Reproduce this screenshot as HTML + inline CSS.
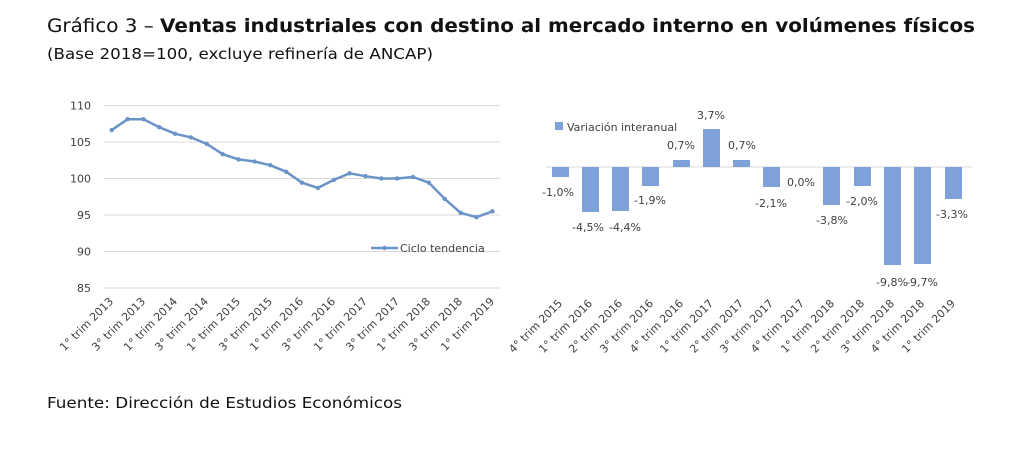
<!DOCTYPE html>
<html><head><meta charset="utf-8"><style>
html,body{margin:0;padding:0;background:#fff;}
svg{display:block;font-family:"DejaVu Sans","Liberation Sans",sans-serif;}
</style></head><body>
<svg width="1024" height="464" viewBox="0 0 1024 464" xmlns="http://www.w3.org/2000/svg">
<text x="47" y="32" font-size="19" fill="#111" textLength="928" lengthAdjust="spacingAndGlyphs">Gráfico 3 – <tspan font-weight="bold">Ventas industriales con destino al mercado interno en volúmenes físicos</tspan></text>
<text x="47" y="59" font-size="15" fill="#111" textLength="386" lengthAdjust="spacingAndGlyphs">(Base 2018=100, excluye refinería de ANCAP)</text>
<text x="47" y="408" font-size="15" fill="#111" textLength="355" lengthAdjust="spacingAndGlyphs">Fuente: Dirección de Estudios Económicos</text>

<g stroke="#d9d9d9" stroke-width="1">
<line x1="104" y1="105.5" x2="500" y2="105.5"/><line x1="104" y1="142" x2="500" y2="142"/>
<line x1="104" y1="178.5" x2="500" y2="178.5"/><line x1="104" y1="215" x2="500" y2="215"/>
<line x1="104" y1="251.5" x2="500" y2="251.5"/><line x1="104" y1="288" x2="500" y2="288"/>
</g>
<g font-size="11" fill="#404040" text-anchor="end">
<text x="91" y="109.5">110</text><text x="91" y="146">105</text><text x="91" y="182.5">100</text>
<text x="91" y="219">95</text><text x="91" y="255.5">90</text><text x="91" y="292">85</text>
</g>
<polyline fill="none" stroke="#6a93c8" stroke-width="2.5" stroke-linejoin="round" points="111.7,130.1 127.6,119.2 143.4,119.2 159.3,127.2 175.2,133.8 191,137.4 206.9,144.0 222.7,154.2 238.6,159.4 254.5,161.5 270.3,165.2 286.2,171.8 302,182.7 317.9,187.9 333.8,179.9 349.6,173.3 365.5,176.2 381.4,178.5 397.2,178.5 413.1,177.0 428.9,182.7 444.8,198.9 460.6,212.8 476.5,217.2 492.4,211.3"/>
<g fill="#6a93c8">
<circle cx="111.7" cy="130.1" r="2.2"/><circle cx="127.6" cy="119.2" r="2.2"/><circle cx="143.4" cy="119.2" r="2.2"/><circle cx="159.3" cy="127.2" r="2.2"/><circle cx="175.2" cy="133.8" r="2.2"/><circle cx="191" cy="137.4" r="2.2"/><circle cx="206.9" cy="144" r="2.2"/><circle cx="222.7" cy="154.2" r="2.2"/><circle cx="238.6" cy="159.4" r="2.2"/><circle cx="254.5" cy="161.5" r="2.2"/><circle cx="270.3" cy="165.2" r="2.2"/><circle cx="286.2" cy="171.8" r="2.2"/><circle cx="302" cy="182.7" r="2.2"/><circle cx="317.9" cy="187.9" r="2.2"/><circle cx="333.8" cy="179.9" r="2.2"/><circle cx="349.6" cy="173.3" r="2.2"/><circle cx="365.5" cy="176.2" r="2.2"/><circle cx="381.4" cy="178.5" r="2.2"/><circle cx="397.2" cy="178.5" r="2.2"/><circle cx="413.1" cy="177" r="2.2"/><circle cx="428.9" cy="182.7" r="2.2"/><circle cx="444.8" cy="198.9" r="2.2"/><circle cx="460.6" cy="212.8" r="2.2"/><circle cx="476.5" cy="217.2" r="2.2"/><circle cx="492.4" cy="211.3" r="2.2"/>
</g>
<line x1="371" y1="248" x2="398" y2="248" stroke="#6a93c8" stroke-width="2.5"/><circle cx="384.5" cy="248" r="2.2" fill="#6a93c8"/>
<text x="400" y="252" font-size="11" fill="#404040">Ciclo tendencia</text>
<g font-size="11" fill="#404040" text-anchor="end">
<text transform="translate(114,302) rotate(-45)">1° trim 2013</text>
<text transform="translate(146,302) rotate(-45)">3° trim 2013</text>
<text transform="translate(178,302) rotate(-45)">1° trim 2014</text>
<text transform="translate(209,302) rotate(-45)">3° trim 2014</text>
<text transform="translate(241,302) rotate(-45)">1° trim 2015</text>
<text transform="translate(273,302) rotate(-45)">3° trim 2015</text>
<text transform="translate(304,302) rotate(-45)">1° trim 2016</text>
<text transform="translate(336,302) rotate(-45)">3° trim 2016</text>
<text transform="translate(368,302) rotate(-45)">1° trim 2017</text>
<text transform="translate(400,302) rotate(-45)">3° trim 2017</text>
<text transform="translate(431,302) rotate(-45)">1° trim 2018</text>
<text transform="translate(463,302) rotate(-45)">3° trim 2018</text>
<text transform="translate(495,302) rotate(-45)">1° trim 2019</text>
</g>

<line x1="546" y1="167" x2="972" y2="167" stroke="#d9d9d9"/>
<g fill="#7ea2d8">
<rect x="552" y="167" width="17" height="10"/>
<rect x="582" y="167" width="17" height="45"/>
<rect x="612" y="167" width="17" height="44"/>
<rect x="642" y="167" width="17" height="19"/>
<rect x="673" y="160" width="17" height="7"/>
<rect x="703" y="129" width="17" height="38"/>
<rect x="733" y="160" width="17" height="7"/>
<rect x="763" y="167" width="17" height="20"/>
<rect x="823" y="167" width="17" height="38"/>
<rect x="854" y="167" width="17" height="19"/>
<rect x="884" y="167" width="17" height="98"/>
<rect x="914" y="167" width="17" height="97"/>
<rect x="945" y="167" width="17" height="32"/>
<rect x="555" y="122" width="8" height="8"/>
</g>
<text x="567" y="131" font-size="11" fill="#404040">Variación interanual</text>
<g font-size="11" fill="#404040" text-anchor="middle">
<text x="558" y="196">-1,0%</text><text x="588" y="231">-4,5%</text><text x="625" y="231">-4,4%</text>
<text x="650" y="204">-1,9%</text><text x="681" y="149">0,7%</text><text x="711" y="119">3,7%</text>
<text x="742" y="149">0,7%</text><text x="771" y="207">-2,1%</text><text x="801" y="186">0,0%</text>
<text x="832" y="224">-3,8%</text><text x="862" y="205">-2,0%</text><text x="892" y="286">-9,8%</text>
<text x="922" y="286">-9,7%</text><text x="952" y="218">-3,3%</text>
</g>
<g font-size="11" fill="#404040" text-anchor="end">
<text transform="translate(563,304) rotate(-45)">4° trim 2015</text>
<text transform="translate(593,304) rotate(-45)">1° trim 2016</text>
<text transform="translate(623,304) rotate(-45)">2° trim 2016</text>
<text transform="translate(654,304) rotate(-45)">3° trim 2016</text>
<text transform="translate(684,304) rotate(-45)">4° trim 2016</text>
<text transform="translate(714,304) rotate(-45)">1° trim 2017</text>
<text transform="translate(744,304) rotate(-45)">2° trim 2017</text>
<text transform="translate(774,304) rotate(-45)">3° trim 2017</text>
<text transform="translate(805,304) rotate(-45)">4° trim 2017</text>
<text transform="translate(835,304) rotate(-45)">1° trim 2018</text>
<text transform="translate(865,304) rotate(-45)">2° trim 2018</text>
<text transform="translate(895,304) rotate(-45)">3° trim 2018</text>
<text transform="translate(925,304) rotate(-45)">4° trim 2018</text>
<text transform="translate(956,304) rotate(-45)">1° trim 2019</text>
</g>
</svg>
</body></html>
